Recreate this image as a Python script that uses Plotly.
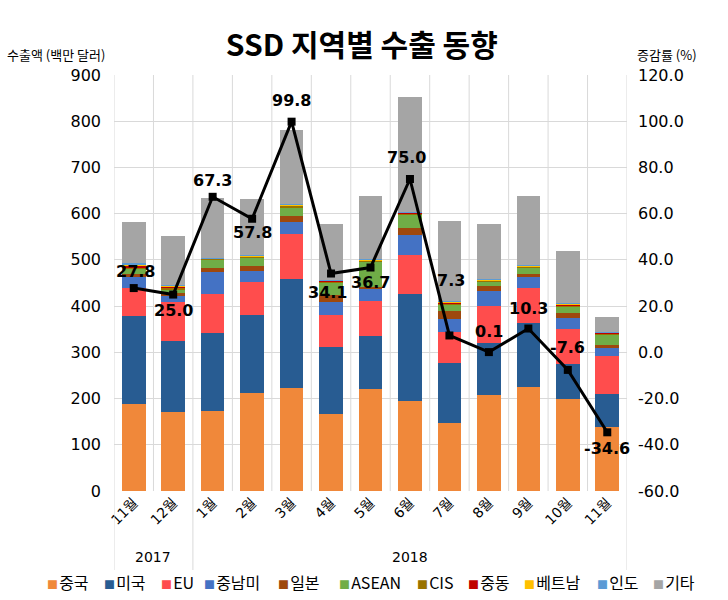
import plotly.graph_objects as go

months = ["11월", "12월", "1월", "2월", "3월", "4월", "5월", "6월", "7월", "8월", "9월", "10월", "11월"]
years = ["2017", "2018"]
year_counts = [2, 11]

china = [188, 172, 174, 213, 222, 167, 220, 194, 147, 207, 226, 199, 139]
usa = [191, 152, 167, 168, 237, 144, 115, 233, 130, 114, 137, 76, 71]
eu = [61, 84, 85, 72, 96, 69, 77, 83, 67, 79, 76, 75, 82]
latam = [23, 13, 48, 23, 27, 29, 25, 43, 28, 32, 23, 24, 17]
japan = [7, 8, 8, 11, 14, 14, 5, 17, 17, 11, 8, 11, 7]
asean = [11, 8, 18, 18, 18, 29, 55, 29, 15, 10, 13, 14, 23]
cis = [3, 3, 2, 2, 3, 2, 1, 2, 2, 2, 2, 3, 2]
mideast = [2, 2, 1, 1, 1, 1, 1, 1, 2, 1, 1, 2, 1]
vietnam = [5, 2, 1, 1, 1, 1, 1, 1, 1, 1, 1, 1, 1]
india = [2, 1, 1, 1, 1, 1, 1, 1, 1, 1, 1, 1, 1]
others = [88, 106, 129, 121, 160, 120, 137, 249, 175, 119, 150, 114, 33]
growth = [27.8, 25.0, 67.3, 57.8, 99.8, 34.1, 36.7, 75.0, 7.3, 0.1, 10.3, -7.6, -34.6]
right_ticks = [-60, -40, -20, 0, 20, 40, 60, 80, 100, 120]

series = [
    ("중국", china, "#F0883A"),
    ("미국", usa, "#285C92"),
    ("EU", eu, "#FF4D4D"),
    ("중남미", latam, "#4472C4"),
    ("일본", japan, "#9E480E"),
    ("ASEAN", asean, "#70AD47"),
    ("CIS", cis, "#997300"),
    ("중동", mideast, "#C00000"),
    ("베트남", vietnam, "#FFC000"),
    ("인도", india, "#5B9BD5"),
    ("기타", others, "#A5A5A5"),
]
# left pixel of each legend entry (swatch) in the reference
legend_px = [45, 102, 159, 202, 276, 337, 415, 466, 522, 595, 651]
# label pixel shifts (style only)
label_dy = [17, -16, 16, -14, 21, -19, -15, 22, 55, 21, 20, 22, -16]
label_dx = [2, 0, 0, 0, 0, -4, 0, -3, 2, 0, 0, 0, 0]

FONT = "DejaVu Sans, Noto Sans CJK KR, sans-serif"
KFONT = "Noto Sans CJK KR, DejaVu Sans, sans-serif"

PL, PR, PT, PB = 114, 101, 75, 109
PW = 728 - PL - PR
PH = 600 - PT - PB

xs = list(range(len(months)))
fig = go.Figure()
for name, vals, col in series:
    fig.add_trace(go.Bar(x=xs, y=vals, name=name, marker=dict(color=col, line=dict(width=0)),
                         width=0.6, showlegend=False))

fig.add_trace(go.Scatter(
    x=xs, y=growth, yaxis="y2", mode="lines+markers",
    line=dict(color="black", width=3),
    marker=dict(symbol="square", size=8, color="black"),
    showlegend=False, cliponaxis=False,
))

shapes = []
grid_col = "#D9D9D9"
for k in range(len(months) + 1):
    shapes.append(dict(type="line", xref="x", yref="paper", x0=k - 0.5, x1=k - 0.5,
                       y0=0, y1=1, line=dict(color=grid_col, width=1), layer="below"))
bounds = [-0.5]
acc = -0.5
for c in year_counts:
    acc += c
    bounds.append(acc)
for b in bounds:
    shapes.append(dict(type="line", xref="x", yref="paper", x0=b, x1=b,
                       y0=0, y1=-0.19, line=dict(color=grid_col, width=1)))

annotations = []
for i, v in enumerate(growth):
    annotations.append(dict(x=xs[i], y=v, xref="x", yref="y2", text=f"{v:.1f}",
                            showarrow=False, yshift=label_dy[i], xshift=label_dx[i],
                            font=dict(family=FONT, size=16, color="black", weight="bold")))
start = -0.5
for yname, c in zip(years, year_counts):
    annotations.append(dict(x=start + c / 2, y=(491 - 557) / PH, xref="x", yref="paper", text=yname,
                            yanchor="middle", showarrow=False,
                            font=dict(family=FONT, size=14, color="black")))
    start += c
annotations.append(dict(x=(5 - PL) / PW, y=(491 - 55) / PH, xref="paper", yref="paper",
                        text="수출액 (백만 달러)", xanchor="left", yanchor="middle", showarrow=False,
                        font=dict(family=KFONT, size=13, color="black")))
annotations.append(dict(x=(635 - PL) / PW, y=(491 - 55) / PH, xref="paper", yref="paper",
                        text="증감률 (%)", xanchor="left", yanchor="middle", showarrow=False,
                        font=dict(family=KFONT, size=13, color="black")))
# legend row
for (name, vals, col), px in zip(series, legend_px):
    annotations.append(dict(
        x=(px - PL) / PW, y=(491 - 582) / PH, xref="paper", yref="paper",
        xanchor="left", yanchor="middle", showarrow=False,
        text=f"<span style='color:{col};font-size:11px'>■</span><span style='font-size:5px'> </span>{name}",
        font=dict(family=KFONT, size=16, color="black")))

fig.update_layout(
    width=728, height=600,
    barmode="stack",
    paper_bgcolor="white", plot_bgcolor="white",
    margin=dict(l=PL, r=PR, t=PT, b=PB, autoexpand=False),
    title=dict(text="SSD 지역별 수출 동향", x=0.497, xanchor="center", y=0.925, yanchor="middle",
               font=dict(family=KFONT, size=30, color="black", weight="bold")),
    xaxis=dict(range=[-0.5, len(months) - 0.5], tickmode="array", tickvals=xs, ticktext=months,
               tickangle=-45, showgrid=False, zeroline=False, showline=False, ticks="",
               tickfont=dict(family=FONT, size=14, color="black")),
    yaxis=dict(range=[0, 900], dtick=100, showgrid=True, gridcolor=grid_col, zeroline=False,
               showline=False, tickfont=dict(family=FONT, size=16, color="black"), ticks="",
               ticklabelstandoff=12),
    yaxis2=dict(range=[-60, 120], tickmode="array", tickvals=right_ticks,
                ticktext=[f"{t:.1f}" for t in right_ticks], overlaying="y", side="right",
                showgrid=False, zeroline=False, showline=False, ticks="",
                tickfont=dict(family=FONT, size=16, color="black"), ticklabelstandoff=10),
    shapes=shapes, annotations=annotations,
    showlegend=False,
)

fig.write_html("out.html", config={"displayModeBar": False},
               post_script="document.body.style.margin='0';document.body.style.overflow='hidden';")
